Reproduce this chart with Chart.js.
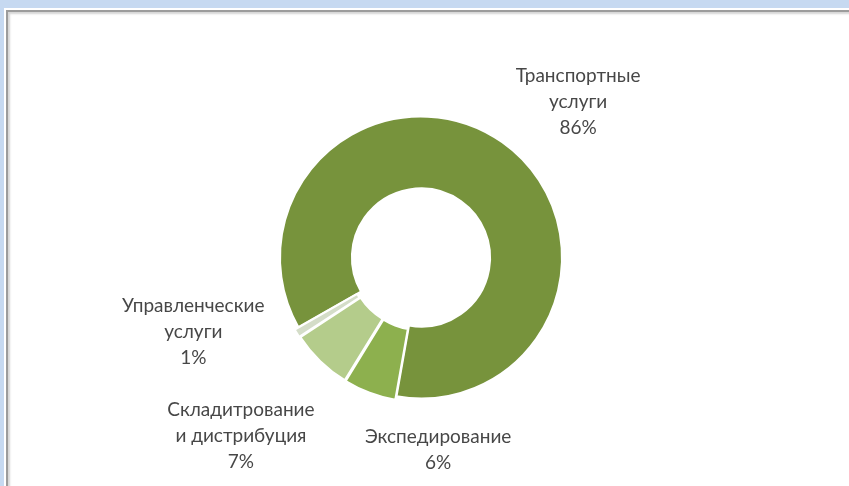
<!DOCTYPE html>
<html>
<head>
<meta charset="utf-8">
<script src="https://cdn.jsdelivr.net/npm/chart.js@4"></script>
<style>
  html, body { margin: 0; padding: 0; width: 849px; height: 486px; overflow: hidden; background: #c6d9f1; }
  #sheet { position: absolute; left: 4px; top: 8px; right: 0; bottom: 0; background: #ffffff; }
  #frame { position: absolute; left: 6px; top: 10px; right: 0; bottom: 0;
           border-left: 2px solid #9c9c9c; border-top: 2px solid #9c9c9c;
           box-shadow: inset 2px 2px 2px #d6d6d6; background: #ffffff; }
  #c { position: absolute; left: 0; top: 0; }
</style>
</head>
<body>
<div id="sheet"></div>
<div id="frame"></div>
<canvas id="c" width="849" height="486"></canvas>
<script>
// ---- data ----
const categories = [
  ['Транспортные', 'услуги'],
  ['Экспедирование'],
  ['Складитрование', 'и дистрибуция'],
  ['Управленческие', 'услуги']
];
const shares = [86, 6, 7, 1];
const colors = ['#77933c', '#8db04e', '#b4cc8b', '#d4ddc8'];

// ---- label placement (angle in degrees clockwise from top, distance in outer radii) ----
const labelAngle = [45.2, 174.9, 225.2, 251.8];
const labelDist  = [1.57, 1.37, 1.80, 1.70];
const LINE_H = 26;

const labelPlugin = {
  id: 'outerLabels',
  afterDatasetsDraw(chart) {
    const ctx = chart.ctx;
    const meta = chart.getDatasetMeta(0);
    const ds = chart.data.datasets[0];
    const base = meta.data[0].getProps(['x', 'y', 'outerRadius'], true);
    ctx.save();
    ctx.font = '19px Lato, "Open Sans", sans-serif';
    ctx.fillStyle = '#474747';
    ctx.textAlign = 'center';
    ctx.textBaseline = 'middle';
    meta.data.forEach((arc, i) => {
      const a = labelAngle[i] * Math.PI / 180;
      const cx = base.x + Math.sin(a) * base.outerRadius * labelDist[i];
      const cy = base.y - Math.cos(a) * base.outerRadius * labelDist[i];
      const lines = chart.data.labels[i].concat([ds.data[i] + '%']);
      const y0 = cy - (lines.length - 1) * LINE_H / 2;
      lines.forEach((t, k) => ctx.fillText(t, cx, y0 + k * LINE_H));
    });
    ctx.restore();
  }
};

new Chart(document.getElementById('c'), {
  type: 'doughnut',
  data: {
    labels: categories,
    datasets: [{
      data: shares,
      backgroundColor: colors,
      borderColor: '#ffffff',
      borderWidth: 2,
      offset: [0, 9, 9, 9],
      hoverOffset: 0
    }]
  },
  options: {
    responsive: false,
    animation: false,
    devicePixelRatio: 1,
    rotation: 240.4,
    cutout: '49%',
    layout: { padding: { left: 0, right: 7, top: 111, bottom: 82 } },
    plugins: {
      legend: { display: false },
      tooltip: { enabled: false }
    }
  },
  plugins: [labelPlugin]
});
</script>
</body>
</html>
